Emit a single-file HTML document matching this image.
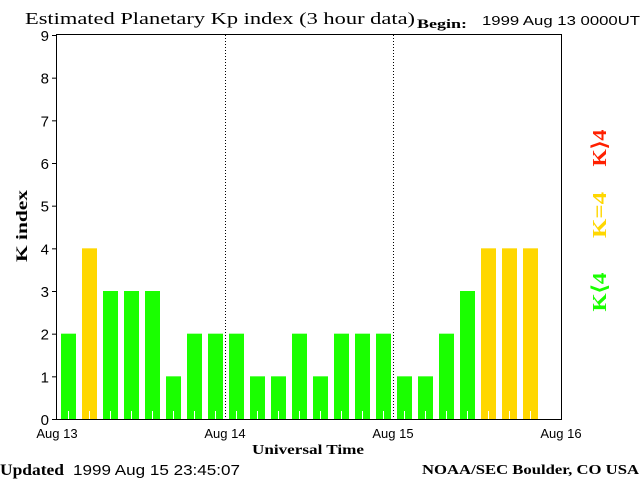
<!DOCTYPE html>
<html><head><meta charset="utf-8"><style>
body{margin:0;background:#fff}
svg{display:block}
.serif{font-family:"Liberation Serif",serif;font-weight:bold}
.sans{font-family:"Liberation Sans",sans-serif}
</style></head><body>
<svg id="chart" width="640" height="480" viewBox="0 0 640 480">
<text x="25" y="24" font-family="Liberation Serif,serif" font-size="17" textLength="390" lengthAdjust="spacingAndGlyphs">Estimated Planetary Kp index (3 hour data)</text>
<text x="417" y="28" class="serif" font-size="13" textLength="50" lengthAdjust="spacingAndGlyphs">Begin:</text>
<text x="482" y="25" class="sans" font-size="13" textLength="158" lengthAdjust="spacingAndGlyphs">1999 Aug 13 0000UT</text>
<g id="plot"></g>
<text transform="translate(27,226) rotate(-90)" text-anchor="middle" class="serif" font-size="16" textLength="72" lengthAdjust="spacingAndGlyphs">K index</text>
<text x="308" y="454" text-anchor="middle" class="serif" font-size="14" textLength="112" lengthAdjust="spacingAndGlyphs">Universal Time</text>
<text x="0" y="475" class="serif" font-size="16" textLength="64" lengthAdjust="spacingAndGlyphs">Updated</text>
<text x="73" y="475" class="sans" font-size="15" textLength="167" lengthAdjust="spacingAndGlyphs">1999 Aug 15 23:45:07</text>
<text x="422" y="474" class="serif" font-size="14" textLength="217" lengthAdjust="spacingAndGlyphs">NOAA/SEC Boulder, CO USA</text>
<text transform="translate(606,148) rotate(-90)" text-anchor="middle" class="serif" font-size="20" fill="#ff2000" textLength="37" lengthAdjust="spacingAndGlyphs">K⟩4</text>
<text transform="translate(606,215) rotate(-90)" text-anchor="middle" class="serif" font-size="20" fill="#ffd700" textLength="46" lengthAdjust="spacingAndGlyphs">K=4</text>
<text transform="translate(606,292) rotate(-90)" text-anchor="middle" class="serif" font-size="20" fill="#1aff00" textLength="39" lengthAdjust="spacingAndGlyphs">K⟨4</text>
</svg>
<script>
const kpValues=[2,4,3,3,3,1,2,2,2,1,1,2,1,2,2,2,1,1,2,3,4,4,4];
const dayLabels=["Aug 13","Aug 14","Aug 15","Aug 16"];
const yTicks=[0,1,2,3,4,5,6,7,8,9];
const NS="http://www.w3.org/2000/svg";
const L=57,R=561,T=35,B=419,SLOTS=24;
const xs=i=>L+i*(R-L)/SLOTS;
const ys=v=>B-v*(B-T)/9;
const g=document.getElementById('plot');
function mk(tag,attrs){const e=document.createElementNS(NS,tag);for(const k in attrs)e.setAttribute(k,attrs[k]);g.appendChild(e);return e;}
kpValues.forEach((v,i)=>{
 const col=v>4?'#ff2000':(v==4?'#ffd700':'#1aff00');
 const r=mk('rect',{x:xs(i)+4,y:ys(v),width:15,height:B-ys(v),fill:col});
 
 
 const t=mk('line',{x1:xs(i)+11.5,x2:xs(i)+11.5,y1:B-8,y2:B,stroke:'#fff'});
 
 
});
dayLabels.forEach((d,i)=>{
 const x=xs(i*8);
 if(i>0&&i<3){const l=mk('line',{x1:x+0.5,x2:x+0.5,y1:T,y2:B,stroke:'#000','stroke-dasharray':'1,2'});
 
 }
 const t=mk('text',{x:x,y:438,'text-anchor':'middle','font-family':'Liberation Sans,sans-serif','font-size':13});
 t.textContent=d;
 
 
});
yTicks.forEach(v=>{
 const y=ys(v);
 const l=mk('line',{x1:L-5,x2:L,y1:y+0.5,y2:y+0.5,stroke:'#000'});
 
 
 const t=mk('text',{x:49,y:y+6,'text-anchor':'end','font-family':'Liberation Sans,sans-serif','font-size':15});
 t.textContent=v;
 
 
});
const f=mk('rect',{x:L-0.5,y:T-0.5,width:R-L+1,height:B-T+1,fill:'none',stroke:'#000'});


</script>
</body></html>
